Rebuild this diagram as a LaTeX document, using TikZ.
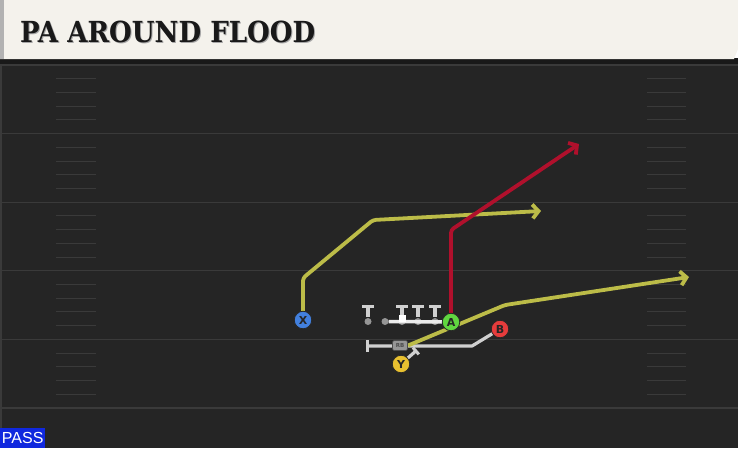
\documentclass[tikz,border=0pt]{standalone}
\usepackage{fontspec}
\setmainfont{DejaVu Sans}
\newfontfamily\titlefont{DejaVu Serif}
\newfontfamily\passfont{Liberation Sans}
\usetikzlibrary{arrows.meta,shapes,positioning}
\definecolor{campo}{RGB}{37,37,37}
\definecolor{lineaCampo}{RGB}{58,58,58}
\definecolor{cabecera}{RGB}{244,242,236}
\definecolor{oliva}{RGB}{188,188,72}
\definecolor{rojoRuta}{RGB}{176,16,44}
\definecolor{grisClaro}{RGB}{208,208,208}
\definecolor{grisMedio}{RGB}{150,150,150}
\definecolor{azulX}{RGB}{66,128,222}
\definecolor{verdeA}{RGB}{96,214,64}
\definecolor{rojoB}{RGB}{230,60,60}
\definecolor{amarilloY}{RGB}{232,192,48}
\definecolor{azulPass}{RGB}{16,40,222}
\tikzstyle{player}=[circle, draw=black!85, line width=0.8pt,
                    minimum size=17.5pt, inner sep=0pt,
                    font=\bfseries\fontsize{11}{11}\selectfont, text=black!85]
\tikzstyle{back}=[rounded corners=2pt, fill=grisMedio, draw=black!70, line width=0.6pt,
                  minimum width=15pt, minimum height=10pt, inner sep=0pt,
                  font=\bfseries\fontsize{5.5}{5.5}\selectfont, text=black!70]
\tikzstyle{lineman}=[circle, fill=grisMedio, minimum size=7pt, inner sep=0pt]
\tikzstyle{route}=[line width=3.8pt, line join=round, rounded corners=3pt,
                   -{Straight Barb[length=6pt,width=14pt]}]
\tikzstyle{block}=[line width=3.2pt, draw=grisClaro, line join=round]
\newcommand{\titulo}{\titlefont\bfseries\fontsize{29}{29}\selectfont\scalebox{0.9}[1]{PA AROUND FLOOD}}

\begin{document}
\begin{tikzpicture}[x=1pt,y=-1pt]
    \useasboundingbox (0,0) rectangle (738,448);

    % campo
    \fill[campo] (0,59) rectangle (738,448);
    \foreach \n in {0,...,5}
        \draw[lineaCampo, line width=1.2pt] (0,65+68.6*\n) -- (738,65+68.6*\n);
    \foreach \g in {0,...,4}
        \foreach \i in {1,...,4}{
            \draw[lineaCampo, line width=1pt] (56,65+68.6*\g+13.72*\i) -- (96,65+68.6*\g+13.72*\i);
            \draw[lineaCampo, line width=1pt] (647,65+68.6*\g+13.72*\i) -- (686,65+68.6*\g+13.72*\i);
        }
    \draw[lineaCampo, line width=1.2pt] (1,62) -- (1,448);

    % cabecera
    \fill[black!90] (0,58) rectangle (738,64);
    \fill[cabecera] (0,0) -- (738,0) -- (738,49) -- (734,59) -- (0,59) -- cycle;
    \fill[black!30] (0,0) rectangle (4,59);
    \node[anchor=base west, text=black!35, inner sep=0pt] at (21,43) {\titulo};
    \node (title) [anchor=base west, text=black!90, inner sep=0pt] at (20,42) {\titulo};

    % posiciones
    \coordinate (pX) at (303,320);
    \coordinate (pA) at (451,322);
    \coordinate (pB) at (500,329);
    \coordinate (pY) at (401,364);
    \coordinate (pRB) at (400,345.5);
    \coordinate (bEnd) at (366,346);
    \coordinate (yEnd) at (417,350);
    \coordinate (xEnd) at (541,211);
    \coordinate (aEnd) at (579,144);
    \coordinate (rbEnd) at (689,277);

    % linea
    \foreach \x in {368,402,418,435}{
        \draw[grisClaro, line width=3.2pt] (\x-6,306.5) -- (\x+6,306.5);
        \draw[grisClaro, line width=3.2pt] (\x,306.5) -- (\x,317);
    }
    \foreach \i/\x in {1/368,2/385,3/402,4/418,5/435}
        \node (l\i) [lineman] at (\x,321.5) {};
    \draw[white!92!black, line width=3.5pt] (l2) -- (pA);
    \fill[white] (398.5,314.5) rectangle (405.5,321.5);

    % bloqueos
    \draw[block, -{Bar[width=12pt,line width=3pt]}] (pB) -- (472,346) -- (bEnd);
    \draw[block, -{Bar[width=9pt,line width=3pt]}] (pY) -- (yEnd);

    % rutas
    \draw[route, oliva] (pX) -- (303,278) -- (373,220) -- (xEnd);
    \draw[route, rojoRuta] (pA) -- (451,230) -- (aEnd);
    \draw[route, oliva] (pRB) ++(8,0) -- (505,305) -- (rbEnd);

    % jugadores
    \foreach \p/\c in {X/azulX,A/verdeA,B/rojoB,Y/amarilloY}
        \node (\p) [player, fill=\c] at (p\p) {\p};
    \node (RB) [back] at (pRB) {RB};

    % etiqueta
    \node (pass) [fill=azulPass, text=white, anchor=south west, minimum width=45pt,
                  minimum height=20pt, inner sep=0pt,
                  font=\passfont\fontsize{16}{16}\selectfont] at (0,448) {PASS};
\end{tikzpicture}
\end{document}
